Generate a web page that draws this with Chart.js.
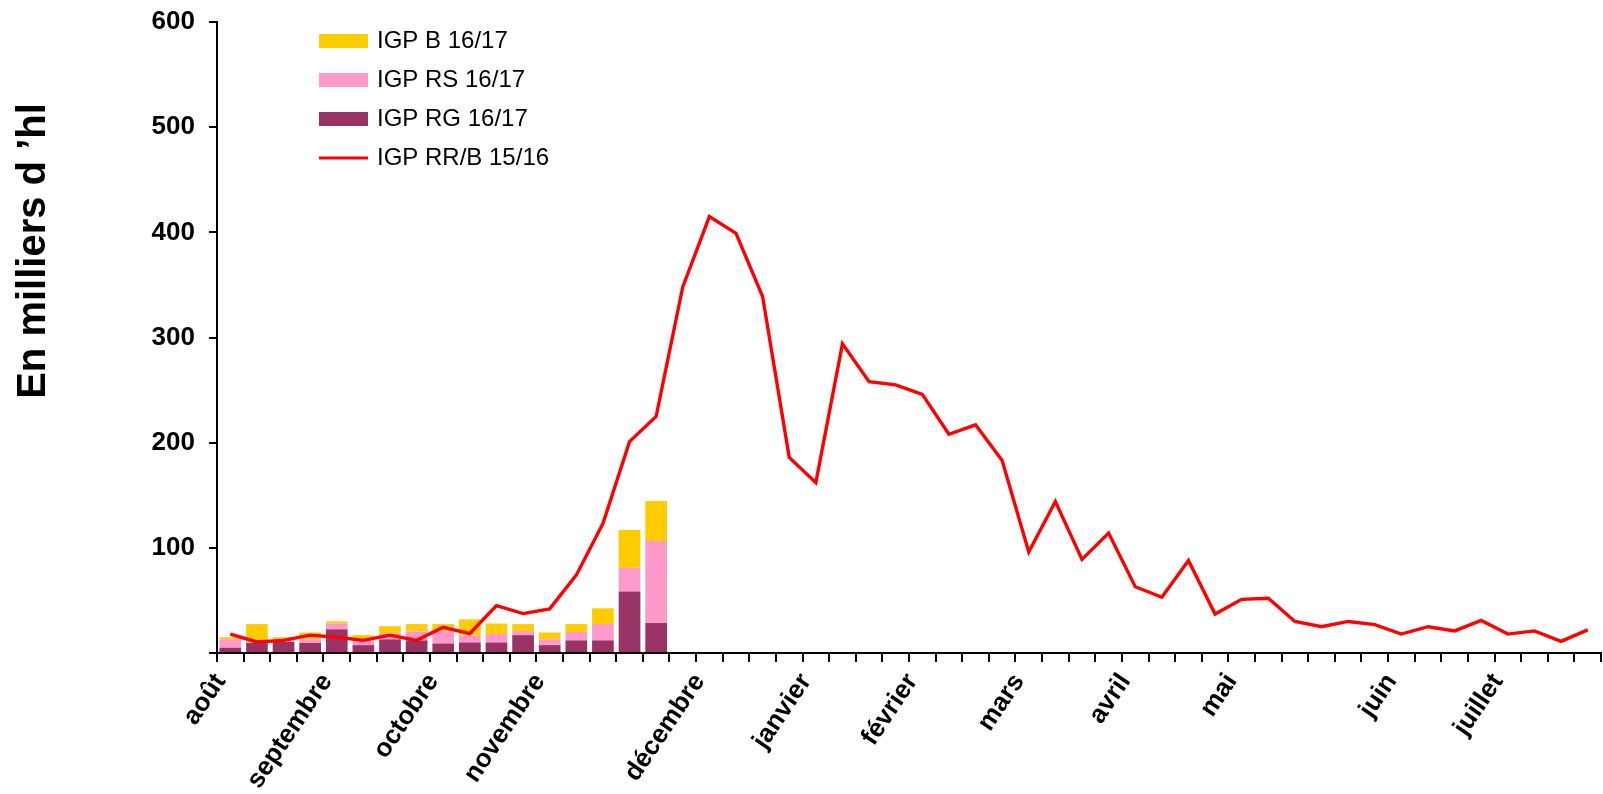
<!DOCTYPE html>
<html lang="fr">
<head>
<meta charset="utf-8">
<title>IGP sorties hebdomadaires</title>
<script src="https://cdn.jsdelivr.net/npm/chart.js@4.4.1/dist/chart.umd.min.js"></script>
<style>
  html, body { margin: 0; padding: 0; background: #fff; }
  #wrap { position: relative; width: 1603px; height: 794px; }
</style>
</head>
<body>
<div id="wrap"><canvas id="chartCanvas"></canvas></div>
<script>
// month names and the week (category index) each one sits on
const monthNames = ['août', 'septembre', 'octobre', 'novembre', 'décembre', 'janvier',
                    'février', 'mars', 'avril', 'mai', 'juin', 'juillet'];
const monthWeeks = [0, 4, 8, 12, 18, 22, 26, 30, 34, 38, 44, 48];

// 16/17 campaign, stacked bars (milliers d'hl)
const igpRG = [5, 9.5, 10.5, 9.5, 22.5, 7.5, 13, 12, 9, 10, 10, 17, 7.5, 12, 12, 58.5, 28.5];
const igpRS = [8, 3, 2, 3.5, 5.5, 4.5, 5.5, 8.5, 11.5, 6.5, 8, 4, 5.5, 8, 15.5, 22.5, 78];
const igpB  = [2, 15, 2.5, 6.5, 2, 5, 7, 7, 7, 15.5, 10, 6.5, 6.5, 7.5, 15, 36, 38];

// 15/16 campaign, line
const igpRRB1516 = [18, 10.5, 12, 17, 15, 12, 17, 12, 24.5, 18.5, 45, 37.5, 42, 74, 123, 201,
                    225, 348, 415, 399, 339, 186, 162, 294, 258, 255, 246, 208, 217, 183, 96, 144,
                    89, 114, 63, 53, 88, 37, 51, 52, 30, 25, 30, 27, 18, 25, 21, 31,
                    18, 21, 11, 22];

const FONT = '"Liberation Sans", Arial, sans-serif';

let labels = [];
for (let i = 0; i < igpRRB1516.length; i++) labels.push('');
monthWeeks.forEach((w, k) => { labels[w] = monthNames[k]; });

// legend drawn inside the plot, top left, plus the y title
const insideLegend = {
    id: 'insideLegend',
    afterDraw(chart) {
        const ctx = chart.ctx;
        ctx.save();
        ctx.font = '24px ' + FONT;
        ctx.textBaseline = 'middle';
        let y = 41;
        for (const idx of [2, 1, 0, 3]) {
            const ds = chart.data.datasets[idx];
            if (ds.type === 'line') {
                ctx.strokeStyle = ds.borderColor;
                ctx.lineWidth = 3;
                ctx.beginPath();
                ctx.moveTo(319, y);
                ctx.lineTo(368, y);
                ctx.stroke();
            } else {
                ctx.fillStyle = ds.backgroundColor;
                ctx.fillRect(319, y - 7, 49, 14);
            }
            ctx.fillStyle = '#000';
            ctx.fillText(ds.label, 377, y);
            y += 39;
        }

        ctx.translate(34, 251);
        ctx.rotate(-Math.PI / 2);
        ctx.font = 'bold 40px ' + FONT;
        ctx.textAlign = 'center';
        ctx.fillText('En milliers d \u2019hl', 0, 0);
        ctx.restore();
    }
};

new Chart('chartCanvas', {
    type: 'bar',
    data: {
        labels: labels,
        datasets: [
            { label: 'IGP RG 16/17', data: igpRG, backgroundColor: '#993366', order: 1 },
            { label: 'IGP RS 16/17', data: igpRS, backgroundColor: '#FF99CC', order: 1 },
            { label: 'IGP B 16/17', data: igpB, backgroundColor: '#FFCC00', order: 1 },
            {
                type: 'line', label: 'IGP RR/B 15/16', data: igpRRB1516, stack: 'line',
                borderColor: '#FF0000', borderWidth: 3.4, pointRadius: 0, tension: 0, order: 0
            }
        ]
    },
    options: {
        responsive: true,
        maintainAspectRatio: false,
        animation: false,
        datasets: { bar: { categoryPercentage: 1, barPercentage: 0.815 } },
        layout: { padding: { left: 0, right: 2, top: 22, bottom: 0 } },
        plugins: { legend: { display: false }, tooltip: { enabled: false } },
        scales: {
            x: {
                stacked: true,
                offset: true,
                grid: { offset: true, drawOnChartArea: false, tickLength: 9, color: '#000', lineWidth: 2 },
                border: { display: true, color: '#000', width: 2 },
                ticks: {
                    autoSkip: false, minRotation: 56, maxRotation: 56, padding: 6, labelOffset: -10,
                    color: '#000', font: { family: FONT, size: 26, weight: 'bold' }
                },
                afterFit(scale) {
                    scale.height = 141;
                    scale.paddingLeft = 0;
                    scale.paddingRight = 0;
                }
            },
            y: {
                stacked: true,
                min: 0,
                max: 600,
                grid: { drawOnChartArea: false, tickLength: 8, color: '#000', lineWidth: 2 },
                border: { display: true, color: '#000', width: 2 },
                ticks: {
                    stepSize: 100, padding: 14, color: '#000',
                    font: { family: FONT, size: 26, weight: 'bold' },
                    callback: (v) => v === 0 ? '' : v
                },
                afterFit(scale) {
                    scale.width = 217;
                    scale.paddingTop = 0;
                    scale.paddingBottom = 0;
                }
            }
        }
    },
    plugins: [insideLegend]
});
</script>
</body>
</html>
